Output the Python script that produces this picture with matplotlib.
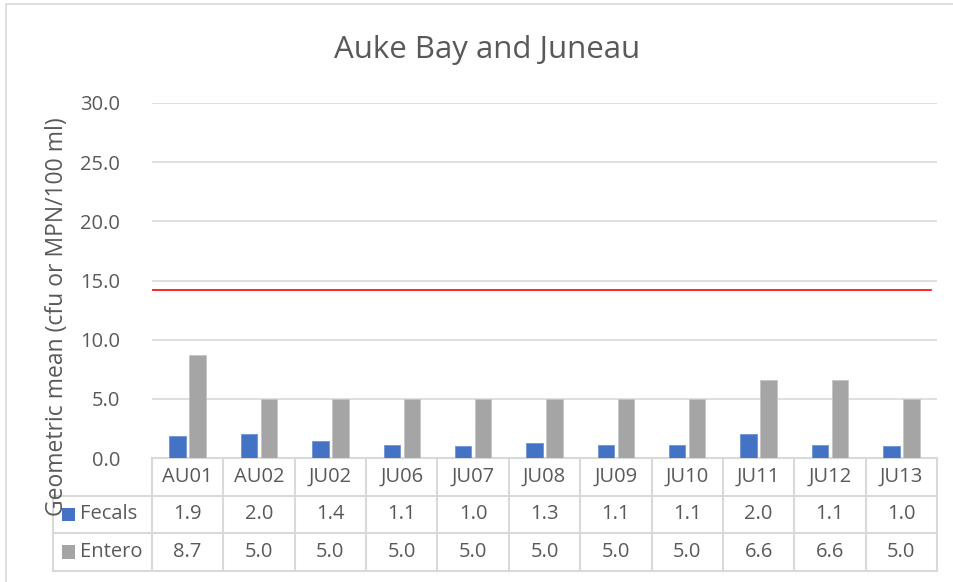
import matplotlib
matplotlib.use("Agg")
import matplotlib.pyplot as plt
from matplotlib.transforms import blended_transform_factory
from matplotlib.patches import Rectangle
import numpy as np

categories = ["AU01", "AU02", "JU02", "JU06", "JU07", "JU08", "JU09", "JU10", "JU11", "JU12", "JU13"]
fecals = [1.9, 2.0, 1.4, 1.1, 1.0, 1.3, 1.1, 1.1, 2.0, 1.1, 1.0]
entero = [8.7, 5.0, 5.0, 5.0, 5.0, 5.0, 5.0, 5.0, 6.6, 6.6, 5.0]
series_names = ["Fecals", "Entero"]
threshold = 14.2
yticks = [0.0, 5.0, 10.0, 15.0, 20.0, 25.0, 30.0]

FONT = ["Open Sans", "DejaVu Sans"]
plt.rcParams["font.family"] = FONT
TXT = "#595959"
GRID = "#d9d9d9"
BLUE = "#4472C4"
GRAY = "#A5A5A5"

W, H = 954, 582
fig = plt.figure(figsize=(W / 100, H / 100), dpi=100)

# outer chart border
fig.patches.append(Rectangle((6.5 / W, -0.1), 1.2, (1 - 4 / H) + 0.1, transform=fig.transFigure,
                             fill=False, edgecolor=GRID, linewidth=1.2))

left, right, top, bottom = 152, 937, 103, 458
ax = fig.add_axes([left / W, 1 - bottom / H, (right - left) / W, (bottom - top) / H])

n = len(categories)
x = np.arange(n)
bw = 0.23
ax.bar(x - 0.14, fecals, bw, color=BLUE, edgecolor="#6f93d3", linewidth=0.6, zorder=3)
ax.bar(x + 0.14, entero, bw, color=GRAY, edgecolor="#c4c4c4", linewidth=0.6, zorder=3)
ax.axhline(threshold, xmin=0, xmax=0.992, color="#ff0000", linewidth=1.2, zorder=4)

fs = 14.5
ax.set_xlim(-0.5, n - 0.5)
ax.set_ylim(0, 30)
ax.set_yticks(yticks)
ax.set_yticklabels([f"{v:.1f}" for v in yticks], color=TXT, fontsize=fs)
ax.tick_params(axis="y", length=0, pad=23)
ax.tick_params(axis="x", length=0, labelbottom=False)
ax.grid(axis="y", color=GRID, linewidth=1.2, zorder=0)
for s in ax.spines.values():
    s.set_visible(False)

fig.text(487 / W, 1 - 50 / H, "Auke Bay and Juneau", fontsize=22.5, color=TXT,
         ha="center", va="center")

# data table
tr = blended_transform_factory(ax.transData, ax.transAxes)
rh = 37.5 / (bottom - top)
lc = 99 / ((right - left) / n)  # label column width in category units
x0 = -0.5
xl = x0 - lc
xr = n - 0.5
lk = dict(color=GRID, linewidth=1.5, transform=tr, clip_on=False)
ax.plot([x0, xr], [0, 0], **lk)
for i in range(1, 4):
    ax.plot([xl, xr], [-i * rh, -i * rh], **lk)
ax.plot([xl, xl], [-rh, -3 * rh], **lk)
for k in range(n + 1):
    ax.plot([x0 + k, x0 + k], [0, -3 * rh], **lk)

for i, c in enumerate(categories):
    ax.text(i, -0.5 * rh, c, transform=tr, ha="center", va="center", fontsize=fs, color=TXT)
    ax.text(i, -1.5 * rh, f"{fecals[i]:.1f}", transform=tr, ha="center", va="center", fontsize=fs, color=TXT)
    ax.text(i, -2.5 * rh, f"{entero[i]:.1f}", transform=tr, ha="center", va="center", fontsize=fs, color=TXT)

ku = 1 / ((right - left) / n)  # 1 px in category units
kh = 13.5 / (bottom - top)
for r, (name, col) in enumerate(zip(series_names, [BLUE, GRAY])):
    yc = -(1.5 + r) * rh
    ax.add_patch(Rectangle((xl + 9 * ku, yc - kh / 2), 13 * ku, kh, transform=tr,
                           facecolor=col, edgecolor="none", clip_on=False))
    ax.text(xl + 27 * ku, yc, name, transform=tr, ha="left", va="center", fontsize=fs, color=TXT)

fig.text(57 / W, 1 - 317 / H, "Geometric mean (cfu or MPN/100 ml)", rotation=90,
         ha="center", va="center", fontsize=16.5, color=TXT)

fig.savefig("out.png", dpi=100)
